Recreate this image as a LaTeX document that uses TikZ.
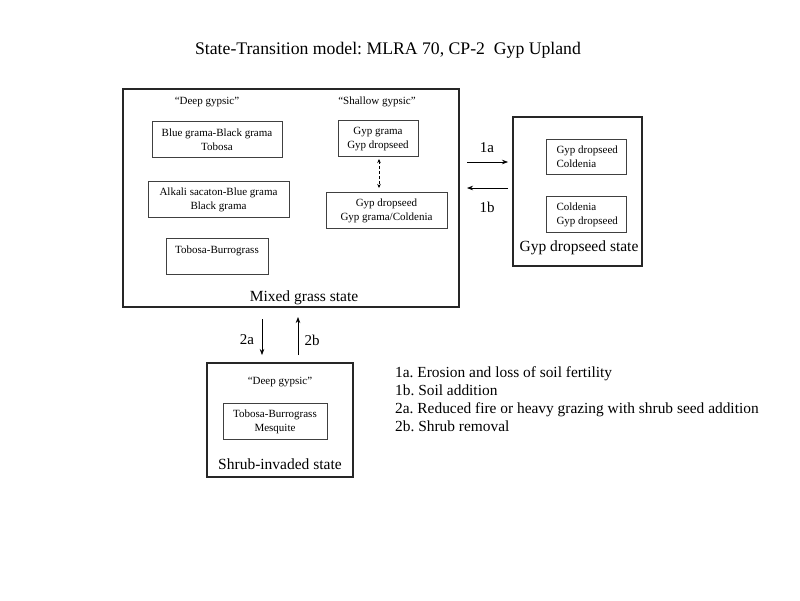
\documentclass[tikz,border=0pt]{standalone}
\usepackage{fontspec}
\setmainfont{Liberation Serif}
\usetikzlibrary{arrows.meta}
\frenchspacing
\begin{document}
\begin{tikzpicture}[x=1pt,y=-1pt,
  statebox/.style={draw=black!85,line width=1.3pt},
  commbox/.style={draw=black!75,line width=0.7pt},
  small/.style={font=\fontsize{11}{14}\selectfont,align=center},
  statelab/.style={font=\fontsize{15.5}{18}\selectfont},
  trans/.style={-{Stealth[length=6pt,width=4.5pt]},line width=0.7pt},
  tlabel/.style={font=\fontsize{15}{18}\selectfont}]
\useasboundingbox[fill=white] (0,0) rectangle (800,600);
\node[font=\fontsize{17.7}{20}\selectfont] (title) at (388,50) {State-Transition model: MLRA 70, CP-2\ \ Gyp Upland};
% Mixed grass state
\draw[statebox] (123,89) rectangle (459,307);
\node[small] (dg1) at (207,102) {``Deep gypsic''};
\node[small] (sg) at (377,102) {``Shallow gypsic''};
\draw[commbox] (152,121) rectangle (282,157);
\node[small] (c1) at (217,140) {Blue grama-Black grama\\Tobosa};
\draw[commbox] (148,181) rectangle (289,217);
\node[small] (c2) at (218.5,200) {Alkali sacaton-Blue grama\\Black grama};
\draw[commbox] (166,238) rectangle (268,274);
\node[small] (c3) at (217,251) {Tobosa-Burrograss};
\draw[commbox] (338,120) rectangle (418,156);
\node[small] (c4) at (378,139) {Gyp grama\\Gyp dropseed};
\draw[commbox] (326,192) rectangle (447,228);
\node[small] (c5) at (386.5,211) {Gyp dropseed\\Gyp grama/Coldenia};
\coordinate (d1) at (379,159);
\coordinate (d2) at (379,188);
\draw[{Stealth[length=4pt,width=3.5pt]}-{Stealth[length=4pt,width=3.5pt]},densely dashed,line width=0.7pt] (d1) -- (d2);
\node[statelab] (mg) at (304,298) {Mixed grass state};
% Gyp dropseed state
\draw[statebox] (513,117) rectangle (642,266);
\draw[commbox] (546,139) rectangle (626,174);
\node[small,align=left,anchor=west] (g1) at (553,157) {Gyp dropseed\\Coldenia};
\draw[commbox] (546,196) rectangle (626,232);
\node[small,align=left,anchor=west] (g2) at (553,214.5) {Coldenia\\Gyp dropseed};
\node[statelab] (gd) at (579,248) {Gyp dropseed state};
% 1a 1b
\coordinate (a1s) at (467,162);
\coordinate (a1e) at (508,162);
\draw[trans] (a1s) -- (a1e);
\node[tlabel] (l1a) at (487,148) {1a};
\coordinate (b1s) at (508,188);
\coordinate (b1e) at (467,188);
\draw[trans] (b1s) -- (b1e);
\node[tlabel] (l1b) at (487,207) {1b};
% 2a 2b
\coordinate (a2s) at (262,319);
\coordinate (a2e) at (262,355);
\draw[trans] (a2s) -- (a2e);
\node[tlabel] (l2a) at (247,340) {2a};
\coordinate (b2s) at (298,355);
\coordinate (b2e) at (298,317);
\draw[trans] (b2s) -- (b2e);
\node[tlabel] (l2b) at (312,340) {2b};
% Shrub-invaded state
\draw[statebox] (207,363) rectangle (353,477);
\node[small] (dg2) at (280,382) {``Deep gypsic''};
\draw[commbox] (223,403) rectangle (327,439);
\node[small] (s1) at (275,421.5) {Tobosa-Burrograss\\Mesquite};
\node[statelab] (si) at (280,464) {Shrub-invaded state};
% Legend
\node[anchor=north west,align=left,font=\fontsize{15.4}{18.3}\selectfont,inner sep=0pt] (leg) at (395,366)
 {1a. Erosion and loss of soil fertility\\1b. Soil addition\\2a. Reduced fire or heavy grazing with shrub seed addition\\2b. Shrub removal};
\end{tikzpicture}
\end{document}
